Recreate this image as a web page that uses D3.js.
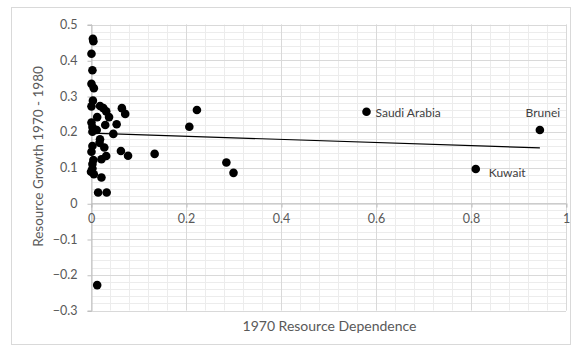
<!DOCTYPE html>
<html>
<head>
<meta charset="utf-8">
<script src="https://cdn.jsdelivr.net/npm/d3@7"></script>
<style>
  body { margin: 0; background: #fff; }
  text { font-family: Lato, "Open Sans", sans-serif; fill: #595959; }
</style>
</head>
<body>
<script>
const width = 577
const height = 350

// 1970 resource dependence (x) and 1970-1980 resource growth (y), one entry per country
const dependence = [0.004, 0.005, 0.001, 0.003, 0.001, 0.006, 0.004, 0.001, 0.019, 0.026,
  0.032, 0.013, 0.038, 0.065, 0.072, 0.001, 0.030, 0.054, 0.003, 0.012,
  0.003, 0.047, 0.019, 0.018, 0.003, 0.028, 0.001, 0.063, 0.078, 0.134,
  0.032, 0.022, 0.005, 0.003, 0.003, 0.000, 0.006, 0.022, 0.015, 0.033,
  0.013, 0.223, 0.207, 0.285, 0.300, 0.580, 0.945, 0.810]
const growth = [0.460, 0.453, 0.418, 0.372, 0.334, 0.322, 0.287, 0.271, 0.272, 0.266,
  0.257, 0.241, 0.241, 0.266, 0.250, 0.226, 0.219, 0.221, 0.213, 0.205,
  0.200, 0.194, 0.179, 0.169, 0.160, 0.156, 0.144, 0.146, 0.133, 0.138,
  0.132, 0.123, 0.121, 0.110, 0.097, 0.088, 0.081, 0.072, 0.030, 0.030,
  -0.229, 0.261, 0.214, 0.114, 0.085, 0.256, 0.205, 0.096]

// the three named countries (index into the arrays above)
const labelNames = ['Saudi Arabia', 'Brunei', 'Kuwait']
const labelIndex = [45, 46, 47]

// linear trendline end points
const trendX = [0, 0.945]
const trendY = [0.196, 0.155]

const xTicks = [0, 0.2, 0.4, 0.6, 0.8, 1]
const yTicks = [-0.3, -0.2, -0.1, 0, 0.1, 0.2, 0.3, 0.4, 0.5]

const x = d3.scaleLinear().domain([0, 1]).range([91, 566])
const y = d3.scaleLinear().domain([-0.3, 0.5]).range([310.5, 24.5])

const svg = d3.select('body').append('svg')
  .attr('width', width)
  .attr('height', height)

// chart frame
svg.append('rect')
  .attr('x', 11.5).attr('y', 7.5)
  .attr('width', 559).attr('height', 337)
  .attr('fill', '#fff')
  .attr('stroke', '#d9d9d9')

// minor gridlines
const grid = svg.append('g')
grid.selectAll('.minor-x')
  .data(d3.range(0, 1.0001, 0.04))
  .enter().append('line')
  .attr('x1', d => Math.round(x(d)) + 0.5).attr('x2', d => Math.round(x(d)) + 0.5)
  .attr('y1', y(0.5)).attr('y2', y(-0.3))
  .attr('stroke', '#ececec')
grid.selectAll('.minor-y')
  .data(d3.range(-0.3, 0.5001, 0.02))
  .enter().append('line')
  .attr('y1', d => Math.round(y(d)) + 0.5).attr('y2', d => Math.round(y(d)) + 0.5)
  .attr('x1', x(0)).attr('x2', x(1))
  .attr('stroke', '#ececec')

// major gridlines
grid.selectAll('.major-x')
  .data(xTicks)
  .enter().append('line')
  .attr('x1', d => Math.round(x(d)) + 0.5).attr('x2', d => Math.round(x(d)) + 0.5)
  .attr('y1', y(0.5)).attr('y2', y(-0.3))
  .attr('stroke', '#d9d9d9')
grid.selectAll('.major-y')
  .data(yTicks)
  .enter().append('line')
  .attr('y1', d => Math.round(y(d)) + 0.5).attr('y2', d => Math.round(y(d)) + 0.5)
  .attr('x1', x(0)).attr('x2', x(1))
  .attr('stroke', '#d9d9d9')

// y axis (at x = 0)
const yAxis = d3.axisLeft(y)
  .tickValues(yTicks)
  .tickSize(4)
  .tickPadding(10)
  .tickFormat(d3.format('~g'))
svg.append('g')
  .attr('transform', `translate(${Math.round(x(0)) + 0.5},0)`)
  .call(yAxis)
  .call(g => g.select('.domain').attr('stroke', '#bfbfbf'))
  .call(g => g.selectAll('.tick line').attr('stroke', '#bfbfbf').attr('transform', 'translate(0,0.5)'))
  .call(g => g.selectAll('text').attr('fill', '#595959').style('font-size', '12.5px').style('font-family', 'Lato, sans-serif'))

// x axis (crosses at y = 0)
const xAxis = d3.axisBottom(x)
  .tickValues(xTicks)
  .tickSize(4)
  .tickPadding(7)
  .tickFormat(d3.format('~g'))
svg.append('g')
  .attr('transform', `translate(0,${Math.round(y(0)) + 0.5})`)
  .call(xAxis)
  .call(g => g.select('.domain').attr('stroke', '#bfbfbf'))
  .call(g => g.selectAll('.tick line').attr('stroke', '#bfbfbf').attr('transform', 'translate(0.5,0)'))
  .call(g => g.selectAll('text').attr('fill', '#595959').style('font-size', '12.5px').style('font-family', 'Lato, sans-serif'))

// trendline
svg.append('line')
  .attr('x1', x(trendX[0])).attr('y1', y(trendY[0]))
  .attr('x2', x(trendX[1])).attr('y2', y(trendY[1]))
  .attr('stroke', '#000')
  .attr('stroke-width', 1.2)

// points
svg.append('g')
  .selectAll('circle')
  .data(d3.range(dependence.length))
  .enter().append('circle')
  .attr('cx', i => x(dependence[i]))
  .attr('cy', i => y(growth[i]))
  .attr('r', 4.3)
  .attr('fill', '#000')

// point labels
const labelOffset = [[9, 5, 'start'], [3, -13, 'middle'], [13, 8, 'start']]
svg.append('g')
  .selectAll('text')
  .data(labelNames)
  .enter().append('text')
  .attr('x', (d, i) => x(dependence[labelIndex[i]]) + labelOffset[i][0])
  .attr('y', (d, i) => y(growth[labelIndex[i]]) + labelOffset[i][1])
  .attr('text-anchor', (d, i) => labelOffset[i][2])
  .style('font-size', '12px')
  .style('fill', '#404040')
  .text(d => d)

// axis titles
svg.append('text')
  .attr('x', (x(0) + x(1)) / 2 + 1)
  .attr('y', 331)
  .attr('text-anchor', 'middle')
  .style('font-size', '14px')
  .text('1970 Resource Dependence')

svg.append('text')
  .attr('transform', `translate(43,${(y(0.5) + y(-0.3)) / 2 - 11}) rotate(-90)`)
  .attr('text-anchor', 'middle')
  .style('font-size', '13.5px')
  .text('Resource Growth 1970 - 1980')
</script>
</body>
</html>
